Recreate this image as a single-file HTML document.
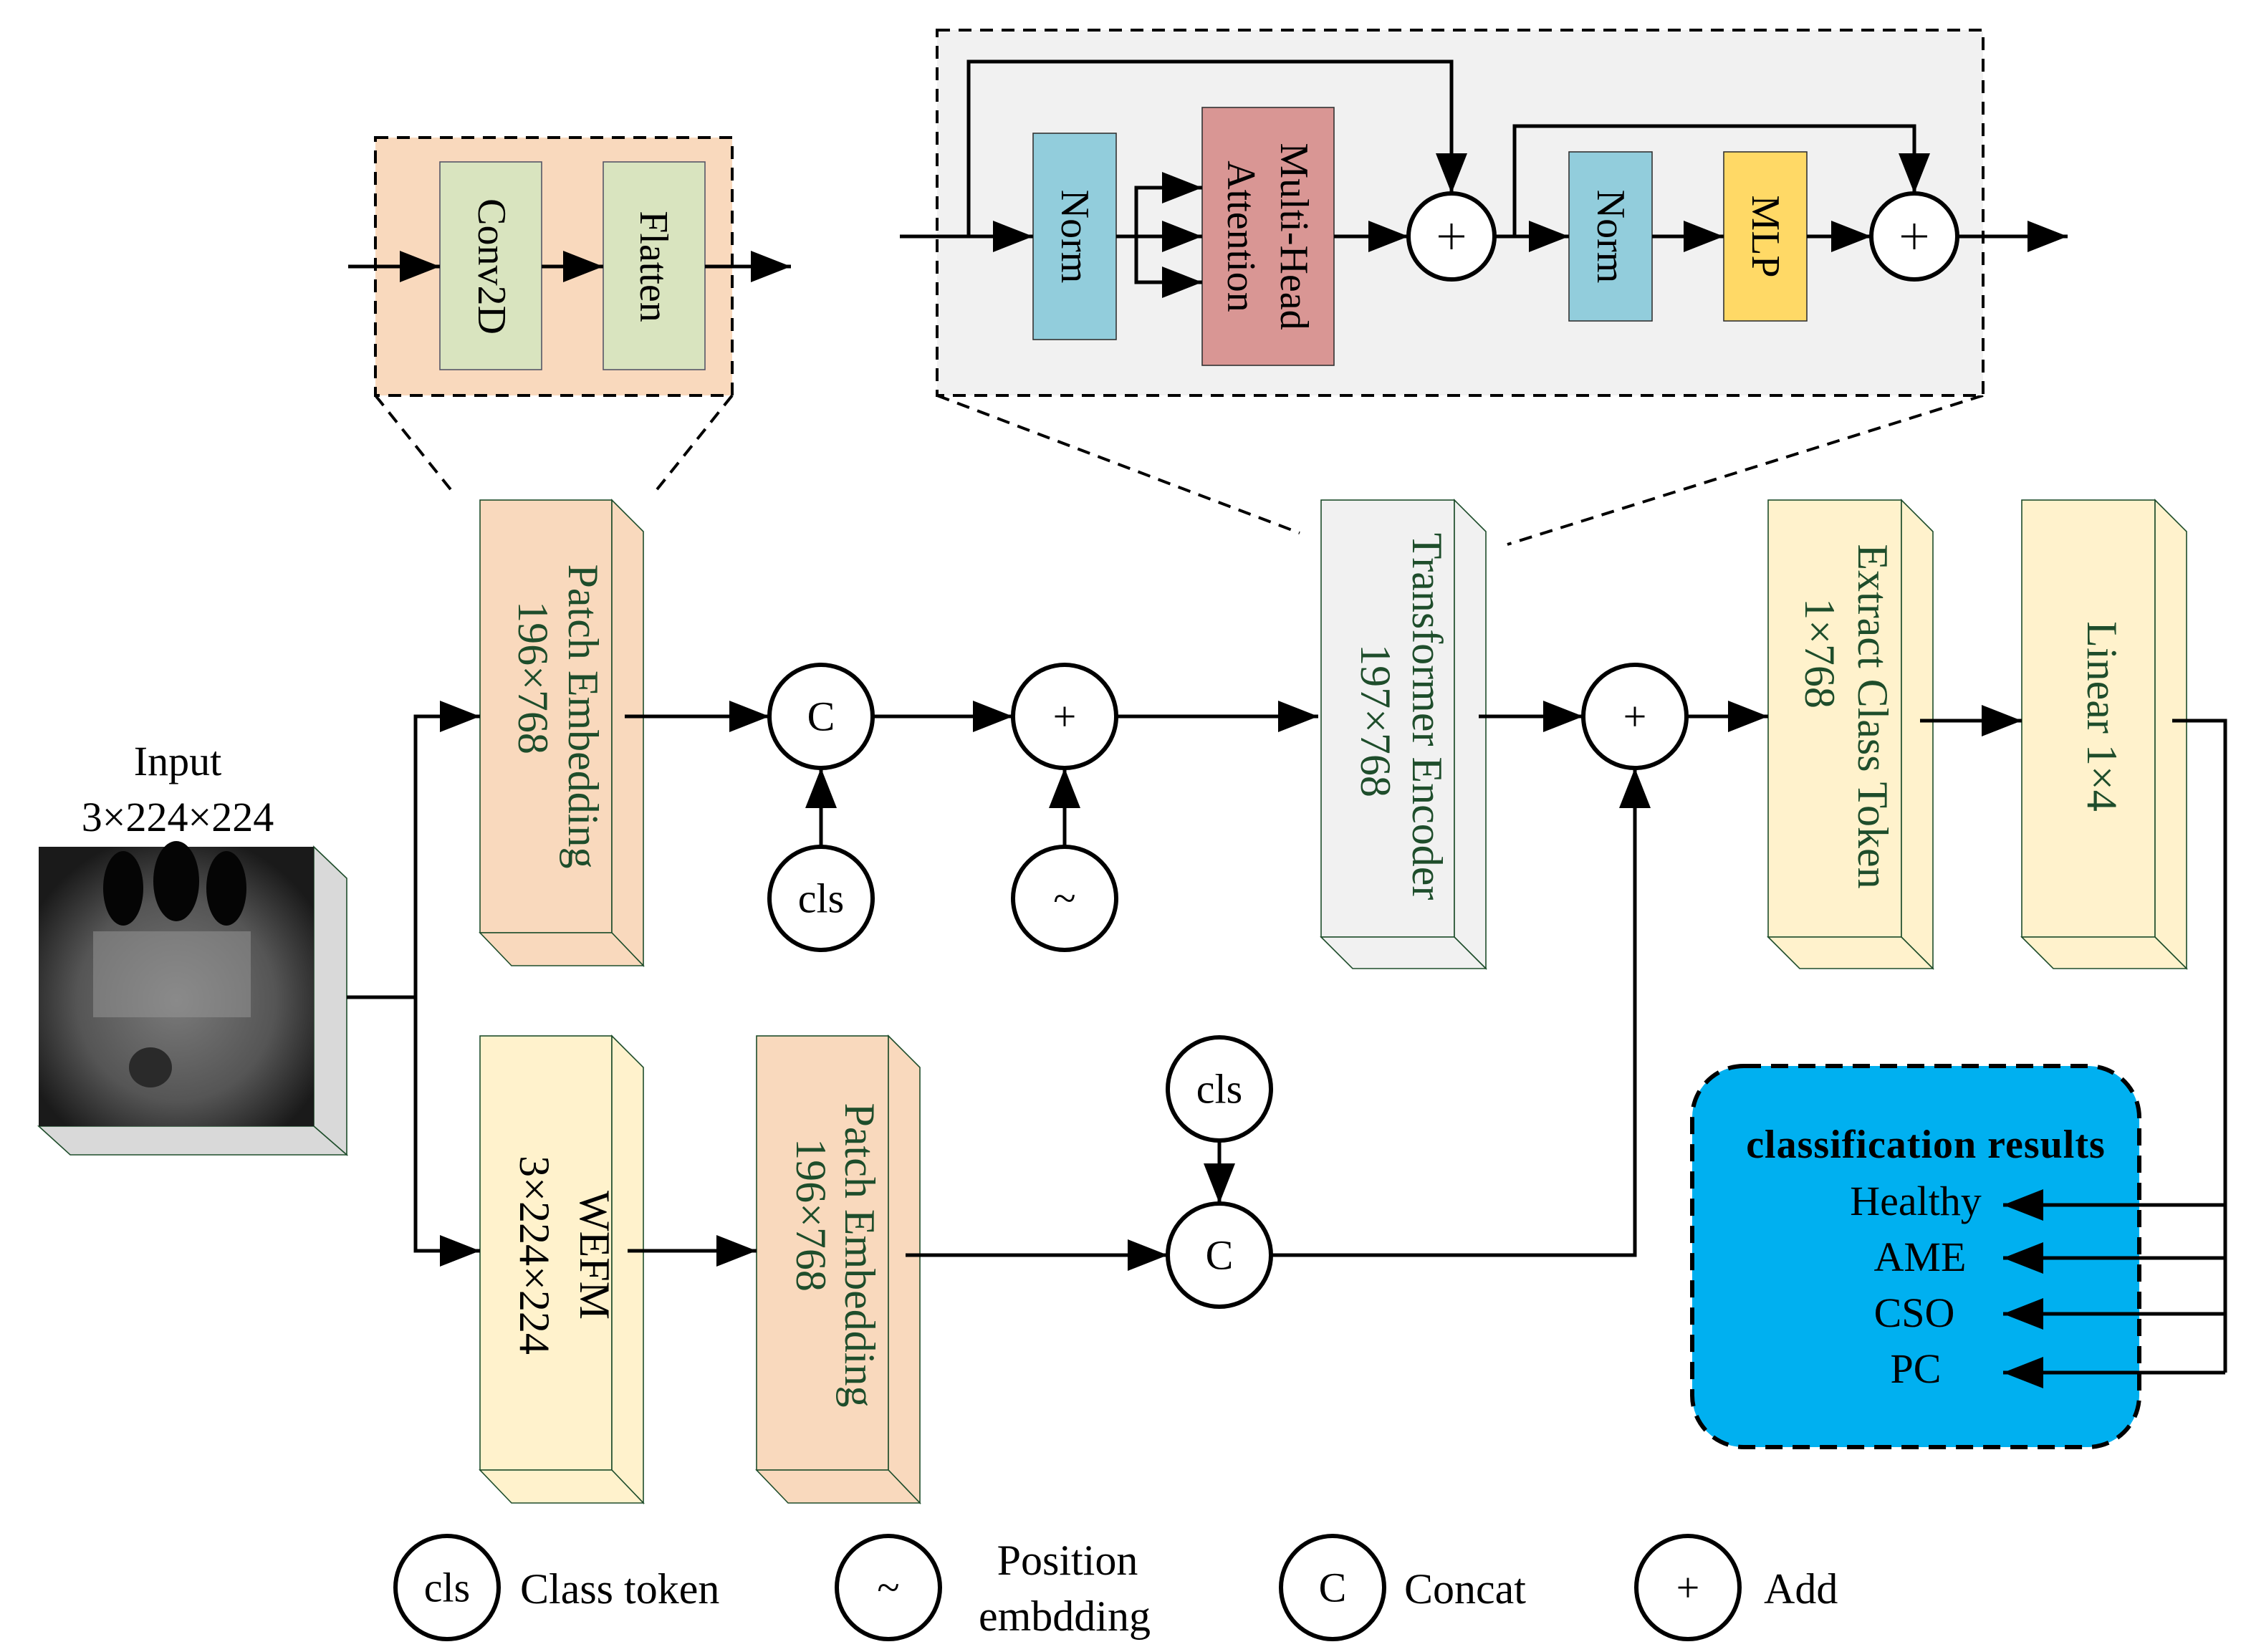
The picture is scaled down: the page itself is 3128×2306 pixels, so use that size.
<!DOCTYPE html>
<html><head><meta charset="utf-8"><style>
html,body{margin:0;padding:0;background:#fff}
svg{display:block}
svg text{font-family:"Liberation Serif","Times New Roman",serif}
</style></head><body>
<svg width="3128" height="2306" viewBox="0 0 1564 1153" xmlns="http://www.w3.org/2000/svg" font-family="Liberation Serif, serif">
<defs>
<marker id="a" markerUnits="userSpaceOnUse" markerWidth="28" markerHeight="22" refX="28" refY="11" orient="auto"><path d="M0,0 L28,11 L0,22 z" fill="#000"/></marker>
<radialGradient id="xr" cx="0.5" cy="0.55" r="0.6"><stop offset="0" stop-color="#7a7a7a"/><stop offset="0.6" stop-color="#555"/><stop offset="1" stop-color="#1a1a1a"/></radialGradient>
</defs>
<rect width="1564" height="1153" fill="#fff"/>

<rect x="262" y="96" width="249" height="180" fill="#f9d9bd" stroke="#000" stroke-width="2" stroke-dasharray="9,6"/>
<rect x="307" y="113" width="71" height="145" fill="#d9e4bf" stroke="#556" stroke-width="0.8"/>
<rect x="421" y="113" width="71" height="145" fill="#d9e4bf" stroke="#556" stroke-width="0.8"/>
<text font-family="Liberation Serif, serif" transform="translate(343,186) rotate(90)" text-anchor="middle" dominant-baseline="central" font-size="28">Conv2D</text>
<text font-family="Liberation Serif, serif" transform="translate(456,186) rotate(90)" text-anchor="middle" dominant-baseline="central" font-size="28">Flatten</text>
<g stroke="#000" stroke-width="2.5" fill="none">
<line x1="243" y1="186" x2="307" y2="186" marker-end="url(#a)"/>
<line x1="378" y1="186" x2="421" y2="186" marker-end="url(#a)"/>
<line x1="492" y1="186" x2="552" y2="186" marker-end="url(#a)"/>
</g>
<g stroke="#000" stroke-width="2" stroke-dasharray="9,6" fill="none">
<line x1="262" y1="276" x2="318" y2="346"/>
<line x1="511" y1="276" x2="455" y2="346"/>
<line x1="654" y1="276" x2="907" y2="372"/>
<line x1="1384" y1="276" x2="1052" y2="380"/>
</g>

<rect x="654" y="21" width="730" height="255" fill="#f1f1f1" stroke="#000" stroke-width="2" stroke-dasharray="9,6"/>
<rect x="721" y="93" width="58" height="144" fill="#92cddc" stroke="#333" stroke-width="0.8"/>
<rect x="839" y="75" width="92" height="180" fill="#d99694" stroke="#333" stroke-width="0.8"/>
<rect x="1095" y="106" width="58" height="118" fill="#92cddc" stroke="#333" stroke-width="0.8"/>
<rect x="1203" y="106" width="58" height="118" fill="#ffd966" stroke="#333" stroke-width="0.8"/>
<g font-family="Liberation Serif, serif" font-size="28" text-anchor="middle" dominant-baseline="central">
<text transform="translate(750,165) rotate(90)">Norm</text>
<text transform="translate(903,165) rotate(90)">Multi-Head</text>
<text transform="translate(866,165) rotate(90)">Attention</text>
<text transform="translate(1124,165) rotate(90)">Norm</text>
<text transform="translate(1232,165) rotate(90)">MLP</text>
</g>
<g stroke="#000" stroke-width="2.5" fill="none">
<line x1="628" y1="165" x2="721" y2="165" marker-end="url(#a)"/>
<polyline points="676,165 676,43 1013,43 1013,135" marker-end="url(#a)"/>
<line x1="779" y1="165" x2="839" y2="165" marker-end="url(#a)"/>
<polyline points="793,165 793,131 839,131" marker-end="url(#a)"/>
<polyline points="793,165 793,197 839,197" marker-end="url(#a)"/>
<line x1="931" y1="165" x2="983" y2="165" marker-end="url(#a)"/>
<line x1="1043" y1="165" x2="1095" y2="165" marker-end="url(#a)"/>
<polyline points="1057,165 1057,88 1336,88 1336,135" marker-end="url(#a)"/>
<line x1="1153" y1="165" x2="1203" y2="165" marker-end="url(#a)"/>
<line x1="1261" y1="165" x2="1306" y2="165" marker-end="url(#a)"/>
<line x1="1366" y1="165" x2="1443" y2="165" marker-end="url(#a)"/>
</g>
<g stroke="#000" stroke-width="3" fill="#fff">
<circle cx="1013" cy="165" r="30"/><circle cx="1336" cy="165" r="30"/>
</g>
<g stroke="#000" stroke-width="1.5">
<line x1="1004" y1="165" x2="1022" y2="165"/><line x1="1013" y1="156" x2="1013" y2="174"/>
<line x1="1327" y1="165" x2="1345" y2="165"/><line x1="1336" y1="156" x2="1336" y2="174"/>
</g>

<polygon points="219,591 242,613 242,806 219,786" fill="#d9d9d9" stroke="#1e4d2b" stroke-width="0.8"/>
<polygon points="27,786 219,786 242,806 49,806" fill="#d9d9d9" stroke="#1e4d2b" stroke-width="0.8"/>
<rect x="27" y="591" width="192" height="195" fill="url(#xr)"/>
<ellipse cx="86" cy="620" rx="14" ry="26" fill="#050505"/><ellipse cx="123" cy="615" rx="16" ry="28" fill="#050505"/><ellipse cx="158" cy="620" rx="14" ry="26" fill="#050505"/>
<rect x="65" y="650" width="110" height="60" fill="#999" opacity="0.5"/>
<ellipse cx="105" cy="745" rx="15" ry="14" fill="#2a2a2a"/>
<text font-family="Liberation Serif, serif" x="124" y="541" text-anchor="middle" font-size="29">Input</text>
<text font-family="Liberation Serif, serif" x="124" y="580" text-anchor="middle" font-size="29">3×224×224</text>

<g stroke="#1e4d2b" stroke-width="0.8">
<g fill="#f9d9bd"><rect x="335" y="349" width="92" height="302"/><polygon points="427,349 449,371 449,674 427,651"/><polygon points="335,651 427,651 449,674 357,674"/></g>
<g fill="#fff2cc"><rect x="335" y="723" width="92" height="303"/><polygon points="427,723 449,745 449,1049 427,1026"/><polygon points="335,1026 427,1026 449,1049 357,1049"/></g>
<g fill="#f9d9bd"><rect x="528" y="723" width="92" height="303"/><polygon points="620,723 642,745 642,1049 620,1026"/><polygon points="528,1026 620,1026 642,1049 550,1049"/></g>
<g fill="#f1f1f1"><rect x="922" y="349" width="93" height="305"/><polygon points="1015,349 1037,371 1037,676 1015,654"/><polygon points="922,654 1015,654 1037,676 944,676"/></g>
<g fill="#fff2cc"><rect x="1234" y="349" width="93" height="305"/><polygon points="1327,349 1349,371 1349,676 1327,654"/><polygon points="1234,654 1327,654 1349,676 1256,676"/></g>
<g fill="#fff2cc"><rect x="1411" y="349" width="93" height="305"/><polygon points="1504,349 1526,371 1526,676 1504,654"/><polygon points="1411,654 1504,654 1526,676 1433,676"/></g>
</g>
<g font-family="Liberation Serif, serif" fill="#1e4d2b" font-size="30" text-anchor="middle" dominant-baseline="central">
<text transform="translate(407,500) rotate(90)">Patch Embedding</text>
<text transform="translate(372,473) rotate(90)">196×768</text>
<text transform="translate(996,500) rotate(90)">Transformer Encoder</text>
<text transform="translate(960,503) rotate(90)">197×768</text>
<text transform="translate(1307,500) rotate(90)">Extract Class Token</text>
<text transform="translate(1270,456) rotate(90)">1×768</text>
<text transform="translate(1467,500) rotate(90)">Linear 1×4</text>
<text transform="translate(600,876) rotate(90)">Patch Embedding</text>
<text transform="translate(566,848) rotate(90)">196×768</text>
</g>
<g font-family="Liberation Serif, serif" fill="#000" font-size="30" text-anchor="middle" dominant-baseline="central">
<text transform="translate(415,876) rotate(90)">WEFM</text>
<text transform="translate(373,876) rotate(90)">3×224×224</text>
</g>

<g stroke="#000" stroke-width="2.5" fill="none">
<line x1="242" y1="696" x2="290" y2="696"/>
<polyline points="335,500 290,500 290,873 335,873"/>
<line x1="290" y1="500" x2="335" y2="500" marker-end="url(#a)"/>
<line x1="290" y1="873" x2="335" y2="873" marker-end="url(#a)"/>
<line x1="436" y1="500" x2="537" y2="500" marker-end="url(#a)"/>
<line x1="609" y1="500" x2="707" y2="500" marker-end="url(#a)"/>
<line x1="779" y1="500" x2="920" y2="500" marker-end="url(#a)"/>
<line x1="573" y1="591" x2="573" y2="536" marker-end="url(#a)"/>
<line x1="743" y1="591" x2="743" y2="536" marker-end="url(#a)"/>
<line x1="1032" y1="500" x2="1105" y2="500" marker-end="url(#a)"/>
<line x1="1177" y1="500" x2="1234" y2="500" marker-end="url(#a)"/>
<line x1="1340" y1="503" x2="1411" y2="503" marker-end="url(#a)"/>
<line x1="438" y1="873" x2="528" y2="873" marker-end="url(#a)"/>
<line x1="632" y1="876" x2="815" y2="876" marker-end="url(#a)"/>
<line x1="851" y1="796" x2="851" y2="840" marker-end="url(#a)"/>
<polyline points="887,876 1141,876 1141,536" marker-end="url(#a)"/>
</g>

<rect x="1181" y="744" width="312" height="266" rx="36" fill="#00b0f0" stroke="#000" stroke-width="3" stroke-dasharray="12,7"/>
<text font-family="Liberation Serif, serif" x="1344" y="808" text-anchor="middle" font-size="28" font-weight="bold" letter-spacing="0.5">classification results</text>
<g font-family="Liberation Serif, serif" font-size="29" text-anchor="middle">
<text x="1337" y="848">Healthy</text>
<text x="1340" y="887">AME</text>
<text x="1336" y="926">CSO</text>
<text x="1337" y="965">PC</text>
</g>
<g stroke="#000" stroke-width="2.5" fill="none">
<polyline points="1516,503 1553,503 1553,958"/>
<line x1="1553" y1="841" x2="1398" y2="841" marker-end="url(#a)"/>
<line x1="1553" y1="878" x2="1398" y2="878" marker-end="url(#a)"/>
<line x1="1553" y1="917" x2="1398" y2="917" marker-end="url(#a)"/>
<line x1="1553" y1="958" x2="1398" y2="958" marker-end="url(#a)"/>
</g>

<g stroke="#000" stroke-width="3" fill="#fff">
<circle cx="573" cy="500" r="36"/><circle cx="743" cy="500" r="36"/>
<circle cx="573" cy="627" r="36"/><circle cx="743" cy="627" r="36"/>
<circle cx="1141" cy="500" r="36"/>
<circle cx="851" cy="760" r="36"/><circle cx="851" cy="876" r="36"/>
<circle cx="312" cy="1108" r="36"/><circle cx="620" cy="1108" r="36"/>
<circle cx="930" cy="1108" r="36"/><circle cx="1178" cy="1108" r="36"/>
</g>
<g font-family="Liberation Serif, serif" font-size="29" text-anchor="middle" dominant-baseline="central">
<text x="573" y="500">C</text><text x="743" y="500">+</text>
<text x="573" y="627">cls</text><text x="743" y="627">~</text>
<text x="1141" y="500">+</text>
<text x="851" y="760">cls</text><text x="851" y="876">C</text>
<text x="312" y="1108">cls</text><text x="620" y="1108">~</text>
<text x="930" y="1108">C</text><text x="1178" y="1108">+</text>
</g>
<g font-family="Liberation Serif, serif" font-size="30">
<text x="363" y="1119">Class token</text>
<text x="745" y="1099" text-anchor="middle">Position</text>
<text x="743" y="1138" text-anchor="middle">embdding</text>
<text x="980" y="1119">Concat</text>
<text x="1231" y="1119">Add</text>
</g>
</svg>
</body></html>
